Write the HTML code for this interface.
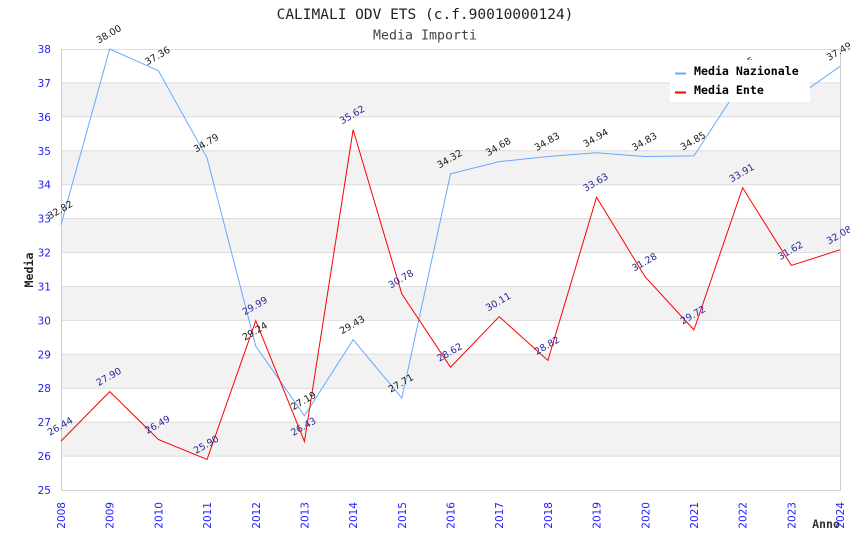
<!DOCTYPE html>
<html><head><meta charset="utf-8"><style>
html,body{margin:0;padding:0;background:#fff;}
svg{display:block;}
.t{font-family:"DejaVu Sans Mono","Liberation Mono",monospace;}
.n{font-family:"DejaVu Sans","Liberation Sans",sans-serif;font-size:9.5px;fill:#1a1a1a;}
.e{font-family:"DejaVu Sans","Liberation Sans",sans-serif;font-size:9.5px;fill:#26269a;}
.yl{font-family:"DejaVu Sans","Liberation Sans",sans-serif;font-size:10.5px;fill:#2020ff;}
</style></head><body>
<svg width="850" height="550" viewBox="0 0 850 550" xmlns="http://www.w3.org/2000/svg">
<rect width="850" height="550" fill="#fff"/>
<!-- bands -->
<g fill="#f2f2f2">
<rect x="61" y="82.92" width="779" height="33.92"/>
<rect x="61" y="150.77" width="779" height="33.92"/>
<rect x="61" y="218.62" width="779" height="33.92"/>
<rect x="61" y="286.46" width="779" height="33.92"/>
<rect x="61" y="354.31" width="779" height="33.92"/>
<rect x="61" y="422.15" width="779" height="33.92"/>
</g>
<g stroke="#dcdcdc" stroke-width="1">
<line x1="61" y1="49.5" x2="840" y2="49.5"/>
<line x1="61" y1="82.92" x2="840" y2="82.92"/>
<line x1="61" y1="116.85" x2="840" y2="116.85"/>
<line x1="61" y1="150.77" x2="840" y2="150.77"/>
<line x1="61" y1="184.69" x2="840" y2="184.69"/>
<line x1="61" y1="218.62" x2="840" y2="218.62"/>
<line x1="61" y1="252.54" x2="840" y2="252.54"/>
<line x1="61" y1="286.46" x2="840" y2="286.46"/>
<line x1="61" y1="320.38" x2="840" y2="320.38"/>
<line x1="61" y1="354.31" x2="840" y2="354.31"/>
<line x1="61" y1="388.23" x2="840" y2="388.23"/>
<line x1="61" y1="422.15" x2="840" y2="422.15"/>
<line x1="61" y1="456.08" x2="840" y2="456.08"/>
</g>
<g stroke="#cfcfcf" stroke-width="1" fill="none">
<line x1="61.5" y1="49" x2="61.5" y2="490.5"/>
<line x1="840.5" y1="49" x2="840.5" y2="490.5"/>
<line x1="61" y1="490.5" x2="841" y2="490.5"/>
</g>
<!-- y labels -->
<g class="yl" text-anchor="end">
<text x="51" y="53">38</text>
<text x="51" y="86.9">37</text>
<text x="51" y="120.8">36</text>
<text x="51" y="154.8">35</text>
<text x="51" y="188.7">34</text>
<text x="51" y="222.6">33</text>
<text x="51" y="256.5">32</text>
<text x="51" y="290.5">31</text>
<text x="51" y="324.4">30</text>
<text x="51" y="358.3">29</text>
<text x="51" y="392.2">28</text>
<text x="51" y="426.2">27</text>
<text x="51" y="460.1">26</text>
<text x="51" y="494">25</text>
</g>
<!-- x labels -->
<g class="yl" text-anchor="end">
<text transform="translate(65,502) rotate(-90)">2008</text>
<text transform="translate(113.7,502) rotate(-90)">2009</text>
<text transform="translate(162.4,502) rotate(-90)">2010</text>
<text transform="translate(211.1,502) rotate(-90)">2011</text>
<text transform="translate(259.8,502) rotate(-90)">2012</text>
<text transform="translate(308.4,502) rotate(-90)">2013</text>
<text transform="translate(357.1,502) rotate(-90)">2014</text>
<text transform="translate(405.8,502) rotate(-90)">2015</text>
<text transform="translate(454.5,502) rotate(-90)">2016</text>
<text transform="translate(503.2,502) rotate(-90)">2017</text>
<text transform="translate(551.9,502) rotate(-90)">2018</text>
<text transform="translate(600.6,502) rotate(-90)">2019</text>
<text transform="translate(649.3,502) rotate(-90)">2020</text>
<text transform="translate(697.9,502) rotate(-90)">2021</text>
<text transform="translate(746.6,502) rotate(-90)">2022</text>
<text transform="translate(795.3,502) rotate(-90)">2023</text>
<text transform="translate(844,502) rotate(-90)">2024</text>
</g>
<!-- series -->
<polyline fill="none" stroke="#66aaff" stroke-width="1" points="61,224.72 109.69,49 158.38,70.71 207.06,157.89 255.75,346.17 304.44,415.71 353.13,339.72 401.81,398.07 450.5,173.84 499.19,161.63 547.88,156.54 596.56,152.81 645.25,156.54 693.94,155.86 742.63,81.23 791.31,100.9 840,66.3"/>
<polyline fill="none" stroke="#ff0000" stroke-width="1" points="61,441.15 109.69,391.62 158.38,439.45 207.06,459.47 255.75,320.72 304.44,441.49 353.13,129.74 401.81,293.93 450.5,367.2 499.19,316.65 547.88,360.41 596.56,197.24 645.25,276.96 693.94,329.88 742.63,187.75 791.31,265.43 840,249.83"/>
<!-- nazionale labels -->
<g class="n" text-anchor="middle">
<text transform="translate(60,209.7) rotate(-30)" dy="0.35em">32.82</text>
<text transform="translate(108.7,34) rotate(-30)" dy="0.35em">38.00</text>
<text transform="translate(157.4,55.7) rotate(-30)" dy="0.35em">37.36</text>
<text transform="translate(206.1,142.9) rotate(-30)" dy="0.35em">34.79</text>
<text transform="translate(254.8,331.2) rotate(-30)" dy="0.35em">29.24</text>
<text transform="translate(303.4,400.7) rotate(-30)" dy="0.35em">27.19</text>
<text transform="translate(352.1,324.7) rotate(-30)" dy="0.35em">29.43</text>
<text transform="translate(400.8,383.1) rotate(-30)" dy="0.35em">27.71</text>
<text transform="translate(449.5,158.8) rotate(-30)" dy="0.35em">34.32</text>
<text transform="translate(498.2,146.6) rotate(-30)" dy="0.35em">34.68</text>
<text transform="translate(546.9,141.5) rotate(-30)" dy="0.35em">34.83</text>
<text transform="translate(595.6,137.8) rotate(-30)" dy="0.35em">34.94</text>
<text transform="translate(644.3,141.5) rotate(-30)" dy="0.35em">34.83</text>
<text transform="translate(692.9,140.9) rotate(-30)" dy="0.35em">34.85</text>
<text transform="translate(741.6,66.2) rotate(-30)" dy="0.35em">37.05</text>
<text transform="translate(790.3,85.9) rotate(-30)" dy="0.35em">36.47</text>
<text transform="translate(839,51.3) rotate(-30)" dy="0.35em">37.49</text>
</g>
<!-- ente labels -->
<g class="e" text-anchor="middle">
<text transform="translate(60,426.2) rotate(-30)" dy="0.35em">26.44</text>
<text transform="translate(108.7,376.6) rotate(-30)" dy="0.35em">27.90</text>
<text transform="translate(157.4,424.5) rotate(-30)" dy="0.35em">26.49</text>
<text transform="translate(206.1,444.5) rotate(-30)" dy="0.35em">25.90</text>
<text transform="translate(254.8,305.7) rotate(-30)" dy="0.35em">29.99</text>
<text transform="translate(303.4,426.5) rotate(-30)" dy="0.35em">26.43</text>
<text transform="translate(352.1,114.7) rotate(-30)" dy="0.35em">35.62</text>
<text transform="translate(400.8,278.9) rotate(-30)" dy="0.35em">30.78</text>
<text transform="translate(449.5,352.2) rotate(-30)" dy="0.35em">28.62</text>
<text transform="translate(498.2,301.7) rotate(-30)" dy="0.35em">30.11</text>
<text transform="translate(546.9,345.4) rotate(-30)" dy="0.35em">28.82</text>
<text transform="translate(595.6,182.2) rotate(-30)" dy="0.35em">33.63</text>
<text transform="translate(644.3,262) rotate(-30)" dy="0.35em">31.28</text>
<text transform="translate(692.9,314.9) rotate(-30)" dy="0.35em">29.72</text>
<text transform="translate(741.6,172.8) rotate(-30)" dy="0.35em">33.91</text>
<text transform="translate(790.3,250.4) rotate(-30)" dy="0.35em">31.62</text>
<text transform="translate(839,234.8) rotate(-30)" dy="0.35em">32.08</text>
</g>
<!-- legend -->
<rect x="670" y="60" width="140" height="42" fill="#fff"/>
<line x1="675" y1="73.5" x2="686" y2="73.5" stroke="#66aaff" stroke-width="2"/>
<line x1="675" y1="92.5" x2="686" y2="92.5" stroke="#ff0000" stroke-width="2"/>
<g class="t" font-size="11.6" font-weight="bold" fill="#000">
<text x="694" y="75">Media Nazionale</text>
<text x="694" y="94">Media Ente</text>
</g>
<!-- titles -->
<text class="t" x="425" y="19" text-anchor="middle" font-size="14.5" fill="#222">CALIMALI ODV ETS (c.f.90010000124)</text>
<text class="t" x="425" y="39.5" text-anchor="middle" font-size="13.3" fill="#444">Media Importi</text>
<text class="t" transform="translate(33,270) rotate(-90)" text-anchor="middle" font-size="11.6" font-weight="bold" fill="#222">Media</text>
<text class="t" x="840" y="528" text-anchor="end" font-size="11.6" font-weight="bold" fill="#333">Anno</text>
</svg>
</body></html>
